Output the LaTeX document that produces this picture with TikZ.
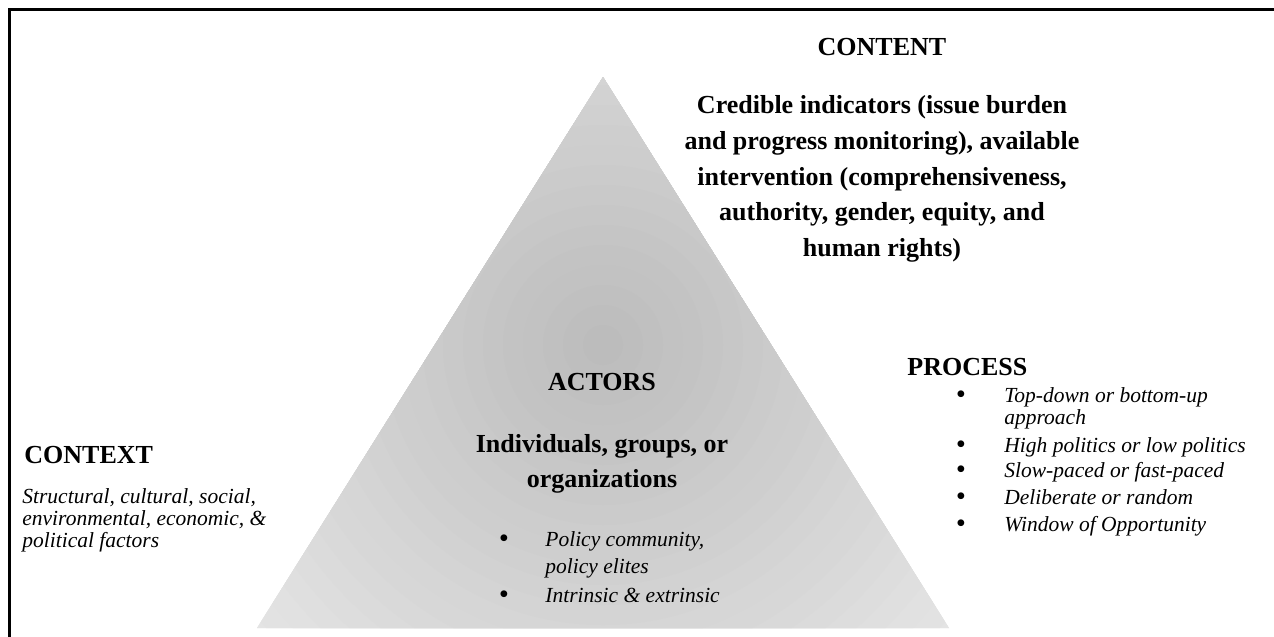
\documentclass[tikz,border=0pt]{standalone}
\usepackage{fontspec}
\setmainfont{Liberation Serif}
\tikzset{lb/.style={font=\fontsize{13}{13}\selectfont\bfseries, inner sep=0pt, anchor=base}}
\tikzset{mi/.style={font=\fontsize{10.75}{10.75}\selectfont\itshape, inner sep=0pt, anchor=base west}}
\tikzset{bul/.style={font=\fontsize{12.5}{12.5}\selectfont\bfseries, inner sep=0pt, anchor=base}}

\begin{document}
\begin{tikzpicture}[x=0.5pt,y=-0.5pt]
    \useasboundingbox (0,0) rectangle (1274,637);
    \clip (0,0) rectangle (1274,637);
    \draw[line width=1.5pt] (9.5,9.5) rectangle (1320,700);
    \begin{scope}
      \clip (603,77) -- (949,628) -- (257,628) -- cycle;
      \foreach \r [evaluate=\r as \g using 27-0.036*\r] in {480,460,...,20}
        \fill[black!\g] (603,345) circle (\r);
    \end{scope}
    \node[lb] (content) at (882,55) {CONTENT};
    \node[lb] (ct1) at (882,113) {Credible indicators (issue burden};
    \node[lb] (ct2) at (882,149) {and progress monitoring), available};
    \node[lb] (ct3) at (882,185) {intervention (comprehensiveness,};
    \node[lb] (ct4) at (882,220) {authority, gender, equity, and};
    \node[lb] (ct5) at (882,256) {human rights)};
    \node[lb] (actors) at (602,390) {ACTORS};
    \node[lb] (ac1) at (602,452) {Individuals, groups, or};
    \node[lb] (ac2) at (602,487) {organizations};
    \node[bul] (ab1) at (504,546) {\textbullet};
    \node[mi] (at1) at (545,546) {Policy community,};
    \node[mi] (at2) at (545,573) {policy elites};
    \node[bul] (ab2) at (504,602) {\textbullet};
    \node[mi] (at3) at (545,602) {Intrinsic \& extrinsic};
    \node[lb, anchor=base west] (context) at (24,463) {CONTEXT};
    \node[mi] (cx1) at (22,503) {Structural, cultural, social,};
    \node[mi] (cx2) at (22,525) {environmental, economic, \&};
    \node[mi] (cx3) at (22,547) {political factors};
    \node[lb, anchor=base west] (process) at (907,375) {PROCESS};
    \node[bul] (pb1) at (961,402) {\textbullet};
    \node[mi] (pt1) at (1004,402) {Top-down or bottom-up};
    \node[mi] (pt2) at (1004,424) {approach};
    \node[bul] (pb2) at (961,452) {\textbullet};
    \node[mi] (pt3) at (1004,452) {High politics or low politics};
    \node[bul] (pb3) at (961,477) {\textbullet};
    \node[mi] (pt4) at (1004,477) {Slow-paced or fast-paced};
    \node[bul] (pb4) at (961,504) {\textbullet};
    \node[mi] (pt5) at (1004,504) {Deliberate or random};
    \node[bul] (pb5) at (961,531) {\textbullet};
    \node[mi] (pt6) at (1004,531) {Window of Opportunity};
\end{tikzpicture}
\end{document}
